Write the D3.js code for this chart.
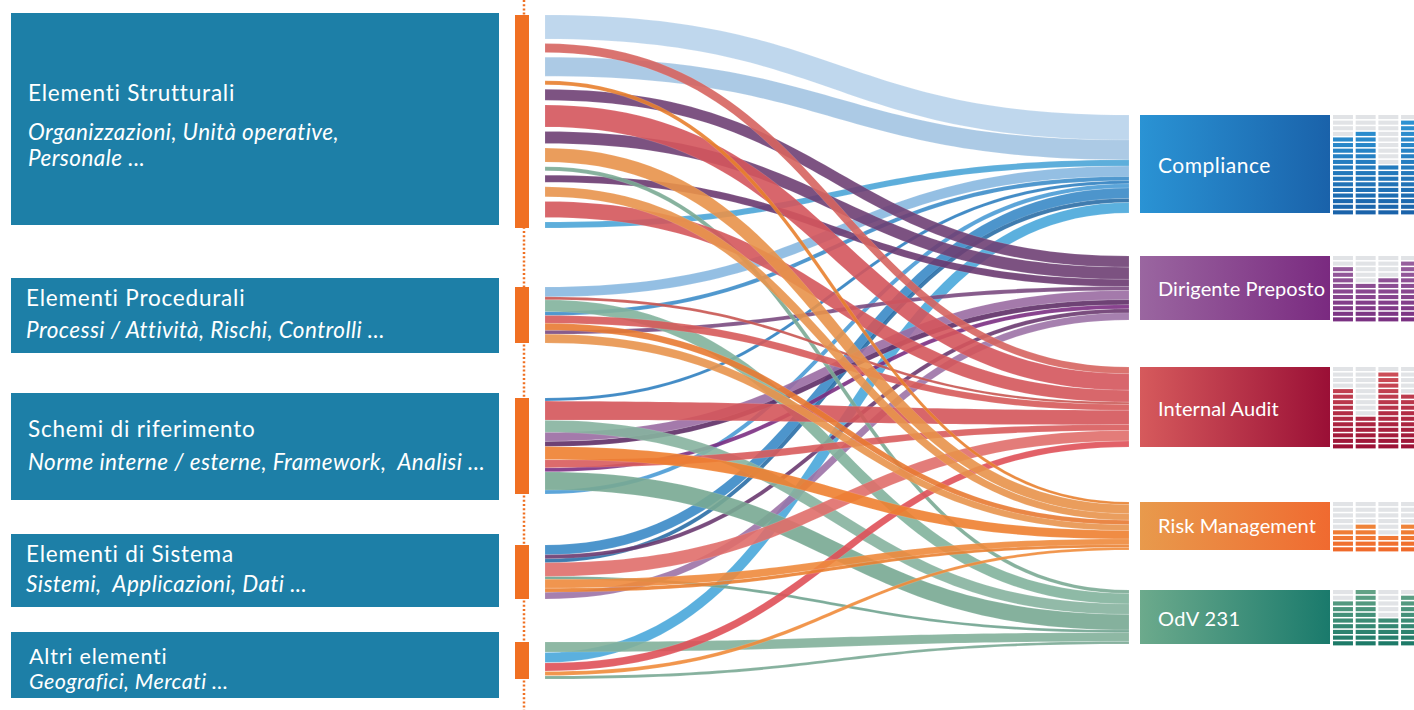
<!DOCTYPE html>
<html>
<head>
<meta charset="utf-8">
<script src="https://d3js.org/d3.v7.min.js"></script>
<style>
    body { margin: 0; background: #fff; }
    svg { display: block; font-family: Lato, "Open Sans", sans-serif; }
    text { white-space: pre; }
</style>
</head>
<body>
<script>
    // ---------- data ----------
    var sources = ["Elementi Strutturali", "Elementi Procedurali", "Schemi di riferimento", "Elementi di Sistema", "Altri elementi"];
    var sourceDetails = [
        ["Organizzazioni, Unità operative,", "Personale ..."],
        ["Processi / Attività, Rischi, Controlli ..."],
        ["Norme interne / esterne, Framework,  Analisi ..."],
        ["Sistemi,  Applicazioni, Dati ..."],
        ["Geografici, Mercati ..."]
    ];
    var targets = ["Compliance", "Dirigente Preposto", "Internal Audit", "Risk Management", "OdV 231"];

    // [source, target, value] listed top to bottom along each source
    var links = [
        [0, 0, 24], [0, 2, 9], [0, 0, 19], [0, 3, 4], [0, 1, 11], [0, 2, 22], [0, 1, 12],
        [0, 3, 14], [0, 4, 4], [0, 1, 7], [0, 3, 10], [0, 2, 16], [0, 0, 6],
        [1, 0, 10], [1, 2, 3], [1, 4, 12], [1, 0, 4], [1, 2, 8], [1, 3, 7], [1, 1, 4], [1, 3, 9],
        [2, 0, 3], [2, 2, 19], [2, 4, 12], [2, 1, 9], [2, 1, 5], [2, 3, 13], [2, 2, 8], [2, 1, 4], [2, 4, 18], [2, 0, 4],
        [3, 0, 10], [3, 1, 4], [3, 0, 4], [3, 2, 14], [3, 4, 3], [3, 3, 9], [3, 3, 4], [3, 1, 7],
        [4, 4, 10], [4, 0, 10], [4, 2, 8], [4, 3, 4], [4, 4, 3]
    ];

    // little bar grids next to each target: rows, and filled cells per column
    var gridRows = [18, 12, 15, 9, 10];
    var gridFilled = [[14, 15, 9, 17], [10, 7, 8, 11], [11, 6, 14, 10], [4, 5, 3, 5], [8, 10, 5, 9]];

    // ---------- layout / style ----------
    var W = 1414, H = 710;
    var X0 = 545, X1 = 1129;
    var leftBox = {x: 11, w: 488, y: [[13, 225], [278, 353], [393, 500], [534, 607], [632, 698]]};
    var titleY = [101, 306, 437, 562, 664];
    var detailY = [[140, 166], [338], [470], [592], [689]];
    var textX = [28, 26, 28, 26, 29];
    var leftSize = [22.5, 22.5, 22.5, 22.5, 21.5];
    var bars = {x: 515, w: 14, y: [[15, 228], [287, 343], [398, 494], [545, 599], [642, 679]]};
    var rightBox = {x: 1140, w: 190, y: [[115, 213], [256, 320], [367, 447], [502, 550], [590, 644]]};
    var rightTextY = [173, 296, 416, 533, 626];
    var rightSize = [21, 20, 20, 20, 20];
    var rightSpacing = [0.5, 0.1, 0.1, 0.1, 0.4];
    var nodeGrad = [["#2a93d4", "#1a62aa"], ["#9a66a0", "#7a2a80"], ["#d65a5c", "#9a0f36"], ["#e89a4c", "#f06a30"], ["#6caa8c", "#1a7a6c"]];
    var cellGrad = [["#2d95d4", "#1a63aa"], ["#9a64a0", "#7a3182"], ["#d0525a", "#9c1236"], ["#ee9c48", "#f06a2a"], ["#62a286", "#1d7a68"]];
    var palettes = [
        ["#b8d3eb", "#a3c4e2", "#4ba5d7", "#88b8e0", "#3d8dc9", "#2f7fc0", "#4a9bd5", "#3a8ac6", "#2a6ea6", "#49a7da"],
        ["#6f4074", "#6e3f73", "#6a3a70", "#7a4a80", "#9a6ca2", "#5e2d66", "#7b2f82", "#6a3a70", "#9c72a6"],
        ["#d6645f", "#d4555c", "#d4565b", "#c85450", "#d65a5a", "#d4555a", "#d85b5c", "#e06e6a", "#df5058"],
        ["#e8802e", "#e8924a", "#e8944c", "#e87a32", "#e8944c", "#ee7f30", "#ee8a3c", "#ea8030", "#ef8b3a"],
        ["#7aaa94", "#82b29c", "#86b29e", "#78a892", "#6fa38f", "#82b09a", "#79a894"]
    ];
    var orange = "#f07022", boxFill = "#1d7fa7", grey = "#e1e3e6";

    var svg = d3.select("body").append("svg").attr("width", W).attr("height", H);
    var defs = svg.append("defs");

    // ---------- link geometry ----------
    var L = links.map(function (d, i) { return {s: d[0], t: d[1], value: d[2], i: i}; });

    sources.forEach(function (s, i) {
        var ls = L.filter(function (l) { return l.s === i; });
        var sum = d3.sum(ls, function (l) { return l.value; });
        var span = bars.y[i][1] - bars.y[i][0];
        var wScale = d3.scaleLinear().domain([0, sum]).range([0, Math.min(span, sum)]);
        var gap = ls.length > 1 ? (span - wScale(sum)) / (ls.length - 1) : 0;
        var y = bars.y[i][0];
        ls.forEach(function (l) { l.sw = wScale(l.value); l.sy = y + l.sw / 2; y += l.sw + gap; });
    });

    targets.forEach(function (t, j) {
        var ls = L.filter(function (l) { return l.t === j; }).sort(function (a, b) { return a.sy - b.sy; });
        var sum = d3.sum(ls, function (l) { return l.value; });
        var yScale = d3.scaleLinear().domain([0, sum]).range(rightBox.y[j]);
        var acc = 0;
        ls.forEach(function (l, k) {
            l.tw = yScale(acc + l.value) - yScale(acc);
            l.ty = yScale(acc) + l.tw / 2;
            acc += l.value;
            l.color = palettes[j][k % palettes[j].length];
        });
    });

    var line = d3.line();
    function ribbon(d) {
        var n = 60, top = [], bot = [], xm = (X0 + X1) / 2;
        for (var k = 0; k <= n; k++) {
            var t = k / n, u = 1 - t;
            var x = u * u * u * X0 + 3 * u * u * t * xm + 3 * u * t * t * xm + t * t * t * X1;
            var y = u * u * u * d.sy + 3 * u * u * t * d.sy + 3 * u * t * t * d.ty + t * t * t * d.ty;
            var dx = 3 * u * u * (xm - X0) + 3 * t * t * (X1 - xm);
            var dy = 6 * u * t * (d.ty - d.sy);
            var len = Math.hypot(dx, dy), nx = -dy / len, ny = dx / len;
            var w = (d.sw + (d.tw - d.sw) * t) / 2;
            top.push([x - nx * w, y - ny * w]);
            bot.push([x + nx * w, y + ny * w]);
        }
        return line(top.concat(bot.reverse())) + "Z";
    }

    // ---------- dotted guide + left side ----------
    svg.append("line")
        .attr("x1", 524).attr("x2", 524).attr("y1", 0).attr("y2", H)
        .attr("stroke", orange).attr("stroke-width", 2.5).attr("stroke-dasharray", "2,2.2");

    var left = svg.selectAll("g.src").data(sources).enter().append("g").attr("class", "src");
    left.append("rect")
        .attr("x", leftBox.x).attr("width", leftBox.w)
        .attr("y", function (d, i) { return leftBox.y[i][0]; })
        .attr("height", function (d, i) { return leftBox.y[i][1] - leftBox.y[i][0]; })
        .attr("fill", boxFill);
    left.append("rect")
        .attr("x", bars.x).attr("width", bars.w)
        .attr("y", function (d, i) { return bars.y[i][0]; })
        .attr("height", function (d, i) { return bars.y[i][1] - bars.y[i][0]; })
        .attr("fill", orange);
    left.append("text")
        .attr("x", function (d, i) { return textX[i]; })
        .attr("y", function (d, i) { return titleY[i]; })
        .attr("fill", "#fff").attr("font-size", function (d, i) { return leftSize[i]; })
        .attr("letter-spacing", 0.8)
        .text(function (d) { return d; });
    left.each(function (d, i) {
        d3.select(this).selectAll("text.det").data(sourceDetails[i]).enter().append("text")
            .attr("class", "det")
            .attr("x", textX[i])
            .attr("y", function (e, k) { return detailY[i][k]; })
            .attr("fill", "#fff").attr("font-size", leftSize[i]).attr("font-style", "italic")
            .attr("letter-spacing", 0.45)
            .text(function (e) { return e; });
    });

    // ---------- flows ----------
    var drawOrder = [0, 1, 4, 2, 3];
    var flows = L.slice().sort(function (a, b) {
        return drawOrder.indexOf(a.t) - drawOrder.indexOf(b.t) || a.i - b.i;
    });
    svg.append("g").selectAll("path").data(flows).enter().append("path")
        .attr("d", ribbon)
        .attr("fill", function (d) { return d.color; })
        .attr("fill-opacity", 0.9)
        .attr("stroke", "#fff").attr("stroke-opacity", 0.25).attr("stroke-width", 0.5);

    // ---------- right side ----------
    targets.forEach(function (t, j) {
        var g = defs.append("linearGradient").attr("id", "ng" + j)
            .attr("x1", "0%").attr("x2", "100%").attr("y1", "0%").attr("y2", "0%");
        g.append("stop").attr("offset", "0%").attr("stop-color", nodeGrad[j][0]);
        g.append("stop").attr("offset", "100%").attr("stop-color", nodeGrad[j][1]);
    });

    var right = svg.selectAll("g.tgt").data(targets).enter().append("g").attr("class", "tgt");
    right.append("rect")
        .attr("x", rightBox.x).attr("width", rightBox.w)
        .attr("y", function (d, j) { return rightBox.y[j][0]; })
        .attr("height", function (d, j) { return rightBox.y[j][1] - rightBox.y[j][0]; })
        .attr("fill", function (d, j) { return "url(#ng" + j + ")"; });
    right.append("text")
        .attr("x", 1158)
        .attr("y", function (d, j) { return rightTextY[j]; })
        .attr("fill", "#fff")
        .attr("font-size", function (d, j) { return rightSize[j]; })
        .attr("letter-spacing", function (d, j) { return rightSpacing[j]; })
        .text(function (d) { return d; });

    // bar grids
    var colX = d3.scaleBand().domain(d3.range(4)).range([1333, 1421]).paddingInner(0.12);
    right.each(function (d, j) {
        var y0 = rightBox.y[j][0], y1 = rightBox.y[j][1];
        var rowY = d3.scaleBand().domain(d3.range(gridRows[j])).range([y0, y1 + 1.4]).paddingInner(0.27);
        var col = d3.scaleLinear().domain([0, gridRows[j] - 1]).range(cellGrad[j]);
        var cells = [];
        gridFilled[j].forEach(function (f, c) {
            d3.range(gridRows[j]).forEach(function (r) {
                cells.push({c: c, r: r, on: r >= gridRows[j] - f});
            });
        });
        d3.select(this).selectAll("rect.cell").data(cells).enter().append("rect")
            .attr("class", "cell")
            .attr("x", function (e) { return colX(e.c); })
            .attr("width", colX.bandwidth())
            .attr("y", function (e) { return rowY(e.r); })
            .attr("height", rowY.bandwidth())
            .attr("fill", function (e) { return e.on ? col(e.r) : grey; });
    });
</script>
</body>
</html>
